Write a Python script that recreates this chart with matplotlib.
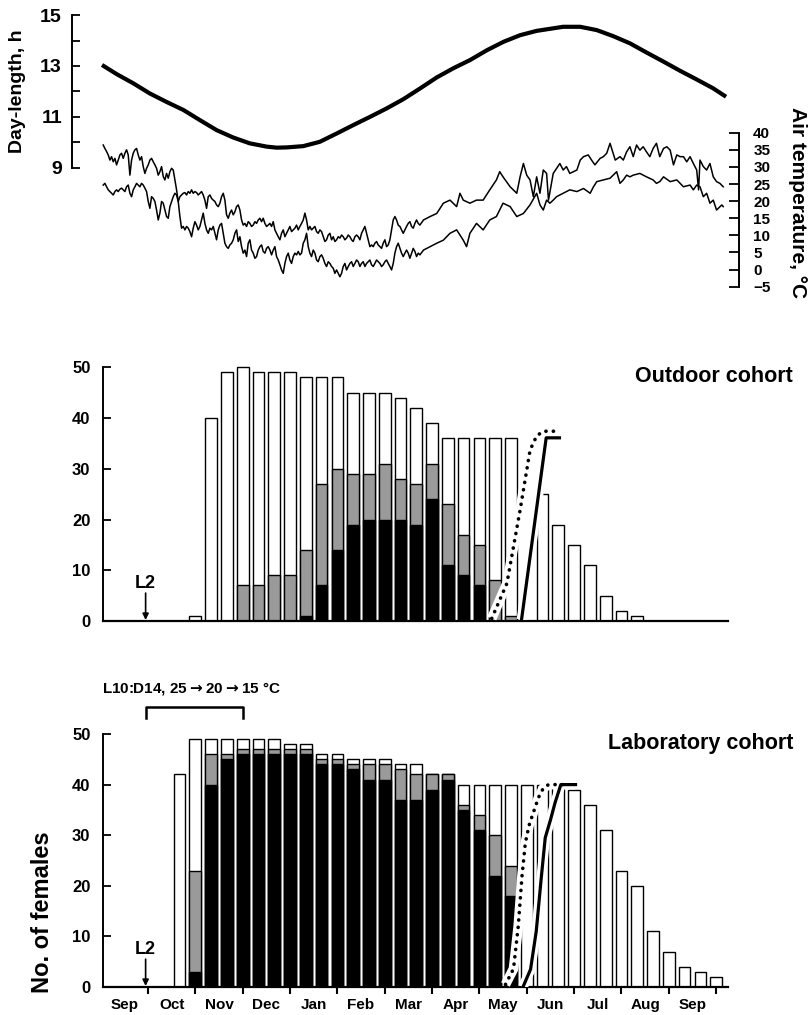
import numpy as np
import matplotlib
matplotlib.use("Agg")
import matplotlib.pyplot as plt

plt.rcParams["font.family"] = ["Liberation Sans", "DejaVu Sans"]
plt.rcParams["font.weight"] = "bold"

W, H = 811, 1015

# x axis unit: months counted from 1 Sep (Sep=0..1, Oct=1..2, ...)
months = ["Sep", "Oct", "Nov", "Dec", "Jan", "Feb", "Mar", "Apr",
          "May", "Jun", "Jul", "Aug", "Sep"]

# ── day-length curve (h) ──
day_x = [0.03, 0.34, 0.69, 1.04, 1.39, 1.75, 2.10, 2.45, 2.80, 3.15, 3.51, 3.72,
         3.93, 4.28, 4.63, 4.99, 5.34, 5.69, 6.04, 6.39, 6.75, 7.10, 7.45, 7.80,
         8.16, 8.51, 8.86, 9.21, 9.42, 9.77, 10.13, 10.48, 10.83, 11.18, 11.54,
         11.89, 12.24, 12.59, 12.94, 13.21]
day_len = [13.04, 12.68, 12.32, 11.92, 11.59, 11.27, 10.87, 10.48, 10.19, 9.96, 9.83, 9.79,
           9.80, 9.85, 10.02, 10.35, 10.68, 11.00, 11.33, 11.69, 12.12, 12.55, 12.91, 13.23,
           13.62, 13.95, 14.21, 14.38, 14.44, 14.54, 14.54, 14.41, 14.17, 13.89, 13.52,
           13.17, 12.81, 12.47, 12.12, 11.79]

# ── air temperature (°C), Sep..mid-Mar read every ~1 day ──
temp_start, temp_step = 0.056, 0.0352
tempA_early = [36.4, 35.4, 34.5, 33.5, 32.0, 33.0, 31.5, 32.5, 30.6, 32.0, 33.5, 34.0, 32.5,
               34.0, 35.0, 33.5, 27.6, 32.0, 34.0, 35.0, 35.4, 33.5, 32.0, 33.0, 30.1, 28.1,
               29.6, 30.6, 32.0, 32.5, 31.5, 30.6, 29.6, 27.6, 28.6, 30.1, 27.2, 26.2, 28.1,
               26.7, 28.6, 29.6, 29.1, 26.2, 23.3, 19.9, 15.5, 12.1, 12.6, 11.6, 12.6, 12.1,
               11.1, 9.6, 12.1, 14.0, 13.0, 11.6, 12.6, 14.5, 16.5, 13.5, 11.6, 10.6, 12.1,
               11.6, 12.6, 10.6, 8.7, 11.6, 13.0, 13.5, 10.6, 7.7, 6.7, 6.2, 7.2, 7.7, 8.7,
               10.6, 11.6, 8.2, 9.6, 6.7, 4.8, 5.7, 3.8, 7.7, 8.7, 5.7, 4.8, 3.3, 3.8, 5.7,
               6.7, 7.2, 5.3, 4.8, 6.2, 6.7, 5.7, 4.3, 5.7, 6.7, 3.8, 2.8, 1.4, -0.1, -1.1,
               1.8, 3.8, 4.8, 2.8, 1.8, 3.8, 4.8, 4.3, 5.3, 4.3, 4.8, 7.7, 8.7, 10.6, 6.7,
               4.8, 3.8, 5.7, 4.8, 2.8, 2.3, 3.8, 4.3, 3.3, 1.8, 0.9, 2.3, 1.8, 0.9, 0.4,
               -1.1, -0.1, -1.1, -2.1, -1.1, 0.9, 1.8, -0.1, 0.9, 1.8, 2.3, 0.9, 1.8, 2.8,
               2.3, 0.9, 1.8, 2.3, 0.9, 1.8, 2.3, 2.8, 1.4, 0.9, 1.8, 2.8, 2.3, 1.8, 0.9,
               1.4, 2.3, 2.8, 1.8, 0.9, -0.1, 1.8, 4.8, 6.7, 7.7, 6.2, 4.8, 3.8, 4.8, 5.7,
               4.8, 3.3, 4.8, 6.2, 5.3, 3.8, 4.8, 4.3]
tempB_early = [24.7, 25.2, 24.2, 23.3, 22.8, 22.3, 21.8, 22.8, 23.3, 22.8, 23.5, 23.8, 23.3,
               22.8, 24.2, 24.7, 22.3, 21.3, 23.3, 24.2, 25.2, 24.7, 24.2, 25.2, 24.7, 23.8,
               22.8, 19.9, 17.9, 21.3, 20.8, 19.9, 17.4, 14.5, 16.5, 19.9, 19.4, 17.4, 15.5,
               15.0, 18.4, 19.9, 21.3, 22.3, 21.8, 19.9, 21.3, 21.8, 22.3, 22.5, 21.8, 22.8,
               22.3, 23.3, 22.3, 22.8, 22.5, 21.8, 22.3, 22.8, 21.8, 20.3, 17.9, 21.3, 21.8,
               20.8, 20.3, 19.9, 18.9, 18.4, 19.4, 21.3, 22.3, 20.3, 16.0, 15.0, 16.5, 17.4,
               16.0, 16.9, 18.4, 18.9, 17.4, 14.5, 13.0, 13.5, 12.6, 14.0, 13.5, 12.6, 13.0,
               14.0, 13.5, 14.5, 15.0, 14.0, 15.0, 13.5, 12.6, 13.0, 13.5, 12.6, 14.0, 11.6,
               10.6, 9.6, 8.7, 10.6, 11.6, 9.6, 10.6, 11.6, 12.6, 11.1, 11.6, 12.1, 13.0,
               11.6, 12.6, 13.5, 14.5, 16.5, 14.5, 11.6, 12.6, 11.6, 12.1, 12.6, 11.1, 10.6,
               11.6, 11.1, 9.6, 8.2, 8.7, 10.1, 10.6, 8.7, 9.6, 8.2, 8.7, 9.6, 9.2, 10.1,
               9.6, 8.7, 9.2, 10.1, 9.6, 8.7, 8.2, 9.6, 10.1, 9.6, 8.7, 10.6, 11.6, 12.6,
               10.6, 8.7, 6.7, 7.2, 6.7, 7.7, 8.2, 7.2, 6.7, 6.2, 7.7, 8.7, 6.7, 7.2, 8.7,
               11.6, 14.5, 15.5, 14.5, 13.0, 12.6, 11.6, 10.6, 11.6, 12.6, 13.5, 14.0, 12.6,
               12.1, 13.5, 14.5, 13.5, 13.0]

# ── air temperature (°C), mid-Mar..Sep, coarser reading ──
tA_x = [6.82, 6.96, 7.10, 7.24, 7.38, 7.52, 7.59, 7.66, 7.80, 7.94, 8.08, 8.22, 8.36, 8.43,
        8.50, 8.65, 8.79, 8.86, 8.93, 9.00, 9.07, 9.14, 9.21, 9.28, 9.35, 9.42, 9.46, 9.56,
        9.70, 9.77, 9.84, 9.91, 10.06, 10.13, 10.20, 10.30, 10.37, 10.44, 10.55, 10.62, 10.69,
        10.76, 10.87, 10.97, 11.04, 11.11, 11.18, 11.25, 11.32, 11.39, 11.46, 11.53, 11.60,
        11.67, 11.74, 11.81, 11.89, 11.96, 12.03, 12.10, 12.17, 12.24, 12.31, 12.38, 12.45,
        12.52, 12.59, 12.63, 12.66, 12.73, 12.80, 12.87, 12.94, 13.01, 13.08, 13.15]
tA = [14.5, 15.5, 16.4, 19.4, 20.3, 18.4, 22.3, 20.3, 19.4, 20.3, 20.3, 23.3, 26.2, 28.6,
      27.1, 24.2, 22.3, 27.1, 31.0, 27.6, 26.2, 21.3, 27.1, 22.3, 29.1, 28.1, 20.3, 28.1,
      31.0, 29.1, 30.1, 28.1, 29.1, 32.0, 33.0, 33.5, 32.0, 30.6, 32.5, 33.0, 34.0,
      36.9, 32.0, 33.0, 32.0, 34.4, 35.9, 33.0, 36.4, 34.9, 35.9, 34.4, 33.0,
      35.4, 36.9, 33.0, 35.4, 35.9, 34.9, 30.6, 33.5, 33.0, 33.0, 31.5, 33.0,
      31.0, 29.1, 23.3, 32.0, 30.1, 29.1, 31.0, 27.1, 25.7, 25.2, 24.2]
tB_x = [6.82, 6.96, 7.10, 7.24, 7.38, 7.52, 7.66, 7.73, 7.80, 7.94, 8.08, 8.22, 8.36, 8.50,
        8.65, 8.79, 8.93, 9.07, 9.21, 9.28, 9.35, 9.42, 9.49, 9.56, 9.63, 9.77, 9.91, 10.06,
        10.20, 10.34, 10.41, 10.48, 10.62, 10.76, 10.90, 10.97, 11.04, 11.11, 11.18, 11.25,
        11.39, 11.53, 11.67, 11.74, 11.81, 11.89, 12.03, 12.17, 12.31, 12.45, 12.52, 12.59,
        12.66, 12.73, 12.80, 12.87, 12.94, 13.01, 13.12, 13.15]
tB = [5.7, 6.7, 7.7, 8.6, 10.6, 11.6, 8.6, 6.7, 10.6, 13.5, 11.6, 14.5, 15.5, 19.4,
      18.4, 15.5, 16.4, 18.9, 22.3, 18.9, 17.4, 20.3, 19.4, 20.3, 21.3, 22.3, 23.3, 22.8,
      23.7, 22.3, 24.2, 25.7, 26.2, 26.7, 28.6, 25.2, 26.2, 27.6, 27.1, 27.6,
      28.1, 27.1, 26.2, 25.2, 25.7, 27.1, 25.7, 26.2, 24.2, 24.7, 23.3, 24.7,
      24.2, 21.3, 22.3, 19.4, 20.3, 17.4, 18.9, 18.4]

# ── females per 10-day census, 1st dekad = 21 Oct ──
out_total = [0, 1, 40, 49, 50, 49, 49, 49, 48, 48, 48, 45, 45, 45, 44, 42, 39, 36,
             36, 36, 36, 36, 0, 25, 19, 15, 11, 5, 2, 1, 0, 0, 0, 0, 0]
out_grey = [0, 0, 0, 0, 7, 7, 9, 9, 14, 27, 30, 29, 29, 31, 28, 27, 31, 23,
            17, 15, 8, 1, 0, 0, 0, 0, 0, 0, 0, 0, 0, 0, 0, 0, 0]
out_black = [0, 0, 0, 0, 0, 0, 0, 0, 1, 7, 14, 19, 20, 20, 20, 19, 24, 11,
             9, 7, 0, 0, 0, 0, 0, 0, 0, 0, 0, 0, 0, 0, 0, 0, 0]

lab_total = [42, 49, 49, 49, 49, 49, 49, 48, 48, 46, 46, 45, 45, 45, 44, 44, 42, 42,
             40, 40, 40, 40, 40, 40, 40, 39, 36, 31, 23, 20, 11, 7, 4, 3, 2]
lab_grey = [0, 23, 46, 46, 47, 47, 47, 47, 47, 45, 45, 44, 44, 44, 43, 42, 42, 42,
            36, 34, 30, 24, 0, 0, 0, 0, 0, 0, 0, 0, 0, 0, 0, 0, 0]
lab_black = [0, 3, 40, 45, 46, 46, 46, 46, 46, 44, 44, 43, 41, 41, 37, 37, 39, 41,
             35, 31, 22, 18, 0, 0, 0, 0, 0, 0, 0, 0, 0, 0, 0, 0, 0]

# cumulative emergence curves
out_dot_x = [8.26, 8.58, 8.86, 9.07, 9.21, 9.35, 9.67]
out_dot_y = [0.5, 7.4, 21.9, 33.7, 36.5, 37.4, 37.4]
out_sol_x = [8.89, 9.41, 9.69]
out_sol_y = [0.3, 36.1, 36.1]
lab_dot_x = [8.55, 8.72, 8.82, 8.90, 8.97, 9.05, 9.14, 9.25, 9.35, 9.46, 9.77]
lab_dot_y = [0.5, 3.6, 12.0, 22.0, 28.5, 32.0, 34.5, 37.5, 39.3, 40.0, 40.0]
lab_sol_x = [8.92, 9.08, 9.20, 9.30, 9.39, 9.50, 9.60, 9.72, 10.03]
lab_sol_y = [0.0, 3.5, 11.0, 21.0, 29.5, 33.0, 36.5, 40.0, 40.0]

L2_x = 0.95


def fig_rect(left, top, right, bottom):
    return [left / W, 1 - bottom / H, (right - left) / W, (bottom - top) / H]


fig = plt.figure(figsize=(W / 100, H / 100), dpi=100)

# ══════════ top: day-length + temperature ══════════
ax_t = fig.add_axes(fig_rect(71.7, 10, 739.3, 295))
ax_t.set_xlim(-0.61, 13.49)
ax_t.set_ylim(4.0, 15.2)
ax_t.plot(day_x, day_len, color="black", lw=3.0, solid_capstyle="butt")
for s in ["top", "right", "bottom"]:
    ax_t.spines[s].set_visible(False)
ax_t.spines["left"].set_bounds(9, 15)
ax_t.spines["left"].set_linewidth(1.4)
ax_t.set_yticks([9, 11, 13, 15])
ax_t.set_yticks([10, 12, 14], minor=True)
ax_t.tick_params(axis="y", which="both", direction="in", length=6, width=1.3,
                 labelsize=14, pad=7)
ax_t.tick_params(axis="x", bottom=False, labelbottom=False)

ax_tt = ax_t.twinx()
ax_tt.set_ylim(-7.43, 75.86)
early_x = temp_start + temp_step * np.arange(len(tempA_early))
lineA_x = np.concatenate([early_x, tB_x])
lineA_y = np.concatenate([tempA_early, tB])
early_x = temp_start + temp_step * np.arange(len(tempB_early))
lineB_x = np.concatenate([early_x, tA_x])
lineB_y = np.concatenate([tempB_early, tA])
ax_tt.plot(lineA_x, lineA_y, color="black", lw=1.1)
ax_tt.plot(lineB_x, lineB_y, color="black", lw=1.1)
for s in ["top", "left", "bottom"]:
    ax_tt.spines[s].set_visible(False)
ax_tt.spines["right"].set_bounds(-5, 40)
ax_tt.spines["right"].set_linewidth(1.4)
ax_tt.set_yticks(np.arange(-5, 41, 5))
ax_tt.tick_params(axis="y", direction="in", length=7, width=1.3, labelsize=11, pad=10)

fig.text(18 / W, 1 - 91 / H, "Day-length, h", rotation=90, ha="center", va="center",
         fontsize=14, fontweight="bold")
fig.text(798 / W, 1 - 107 / H, "Air temperature, °C", rotation=270, ha="center", va="top",
         fontsize=15, fontweight="bold")


# ══════════ bar panels ══════════
def bar_panel(rect, total, grey, black, dot_x, dot_y, sol_x, sol_y):
    ax = fig.add_axes(rect)
    pos = 5 / 3 + np.arange(len(total)) / 3
    w = 0.247
    kw = dict(width=w, edgecolor="black", linewidth=1.0, zorder=2)
    ax.bar(pos, total, color="white", **kw)
    ax.bar(pos, grey, color="#9a9a9a", **kw)
    ax.bar(pos, black, color="black", **kw)
    # white halo under the curves
    ax.plot(dot_x, dot_y, color="white", lw=7, zorder=3, solid_capstyle="butt")
    ax.plot(sol_x, sol_y, color="white", lw=7, zorder=3, solid_capstyle="butt")
    ax.plot(dot_x, dot_y, color="black", lw=2.6, zorder=4,
            linestyle=(0, (0.05, 2.0)), dash_capstyle="round")
    ax.plot(sol_x, sol_y, color="black", lw=2.3, zorder=4)
    ax.set_xlim(0.05, 13.25)
    ax.set_ylim(0, 52)
    for s in ["top", "right"]:
        ax.spines[s].set_visible(False)
    ax.spines["left"].set_bounds(0, 50)
    ax.spines["left"].set_linewidth(1.4)
    ax.spines["bottom"].set_linewidth(1.6)
    ax.set_yticks(range(0, 51, 10))
    ax.tick_params(axis="y", direction="in", length=6, width=1.3, labelsize=12, pad=9)
    # L2 marker
    ax.text(L2_x, 7.4, "L2", ha="center", va="center", fontsize=13, fontweight="bold")
    ax.annotate("", xy=(L2_x, 0.2), xytext=(L2_x, 5.5),
                arrowprops=dict(arrowstyle="-|>", color="black", lw=1.2,
                                mutation_scale=9, shrinkA=0, shrinkB=0))
    return ax


ax_out = bar_panel(fig_rect(103, 621 - 52 * 5.074, 728, 621),
                   out_total, out_grey, out_black,
                   out_dot_x, out_dot_y, out_sol_x, out_sol_y)
ax_out.tick_params(axis="x", bottom=False, labelbottom=False)

ax_lab = bar_panel(fig_rect(103, 987 - 52 * 5.06, 728, 987),
                   lab_total, lab_grey, lab_black,
                   lab_dot_x, lab_dot_y, lab_sol_x, lab_sol_y)
ax_lab.set_xticks(range(1, 14))
ax_lab.set_xticklabels([])
ax_lab.set_xticks(np.arange(13) + 0.5, minor=True)
ax_lab.set_xticklabels(months, minor=True)
ax_lab.tick_params(axis="x", which="major", direction="out", length=5, width=1.5)
ax_lab.tick_params(axis="x", which="minor", length=0, labelsize=11, pad=8)

# photoperiod / temperature regime bracket
ax_lab.plot([L2_x, L2_x, 3.0, 3.0], [53.2, 55.3, 55.3, 53.2], color="black", lw=1.8,
            clip_on=False)
ax_lab.text(0.03, 58.9, r"L10:D14, 25$\rightarrow$20$\rightarrow$15 °C", ha="left",
            va="center", fontsize=11, fontweight="bold", clip_on=False)

fig.text(793 / W, 1 - 377 / H, "Outdoor cohort", ha="right", va="center",
         fontsize=15.5, fontweight="bold")
fig.text(793 / W, 1 - 743 / H, "Laboratory cohort", ha="right", va="center",
         fontsize=15.5, fontweight="bold")
fig.text(43 / W, 1 - 912 / H, "No. of females", rotation=90, ha="center", va="center",
         fontsize=17, fontweight="bold")

fig.savefig("out.png", dpi=100)
